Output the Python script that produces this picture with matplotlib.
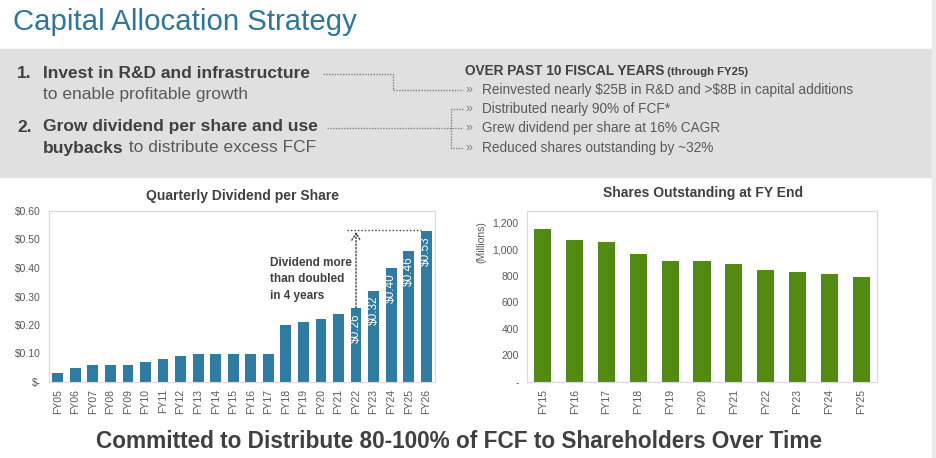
import numpy as np
import matplotlib
matplotlib.use("Agg")
from matplotlib import pyplot as plt
from matplotlib.ticker import FuncFormatter

plt.rcParams['font.family'] = ['Liberation Sans', 'DejaVu Sans']
plt.rcParams['text.parse_math'] = False

# data
div_years = ["FY05", "FY06", "FY07", "FY08", "FY09", "FY10", "FY11", "FY12", "FY13", "FY14", "FY15",
             "FY16", "FY17", "FY18", "FY19", "FY20", "FY21", "FY22", "FY23", "FY24", "FY25", "FY26"]
div_values = [0.03, 0.05, 0.06, 0.06, 0.06, 0.07, 0.08, 0.09, 0.10, 0.10, 0.10,
              0.10, 0.10, 0.20, 0.21, 0.22, 0.24, 0.26, 0.32, 0.40, 0.46, 0.53]
div_labeled = ["FY22", "FY23", "FY24", "FY25", "FY26"]

share_years = ["FY15", "FY16", "FY17", "FY18", "FY19", "FY20", "FY21", "FY22", "FY23", "FY24", "FY25"]
share_values = [1155, 1075, 1057, 965, 913, 912, 889, 844, 831, 816, 791]

bullets = ["Reinvested nearly $25B in R&D and >$8B in capital additions",
           "Distributed nearly 90% of FCF*",
           "Grew dividend per share at 16% CAGR",
           "Reduced shares outstanding by ~32%"]

W, H = 936, 458
TEAL = "#2E7799"
BLUE = "#2F7BA1"
GREEN = "#538A14"
DARK = "#404040"
GRAY = "#595959"
BORDER = "#D9D9D9"

fig = plt.figure(figsize=(W / 100, H / 100), dpi=100)
fig.patch.set_facecolor("white")

# background layer in pixel coords
bg = fig.add_axes([0, 0, 1, 1])
bg.set_xlim(0, W)
bg.set_ylim(H, 0)
bg.axis("off")
bg.add_patch(plt.Rectangle((0, 49), 932, 128, color="#E0E0E0", zorder=0))
bg.add_patch(plt.Rectangle((932, 0), 4, H, color="#EBEBEB", zorder=0))

bg.text(13, 22, "Capital Allocation Strategy", color=TEAL, fontsize=21.2, va="center", ha="left")

bg.text(17, 73, "1.", color=DARK, fontsize=12.5, fontweight="bold", va="center")
bg.text(43, 73, "Invest in R&D and infrastructure", color=DARK, fontsize=12.5,
        fontweight="bold", va="center")
bg.text(43, 94, "to enable profitable growth", color=GRAY, fontsize=12.5, va="center")
bg.text(17, 127, "2.", color=DARK, fontsize=12.5, fontweight="bold", va="center")
bg.text(43, 127, "Grow dividend per share and use", color=DARK, fontsize=12.5,
        fontweight="bold", va="center")
t = bg.text(43, 148, "buybacks", color=DARK, fontsize=12.5, fontweight="bold", va="center")
bg.annotate(" to distribute excess FCF", xy=(1, 0.5), xycoords=t, color=GRAY,
            fontsize=12.5, va="center", ha="left")

t = bg.text(465, 71, "OVER PAST 10 FISCAL YEARS", color=DARK, fontsize=9.8, fontweight="bold", va="center")
bg.annotate(" (through FY25)", xy=(1, 0.45), xycoords=t, color=DARK,
            fontsize=8.2, fontweight="bold", va="center", ha="left")

by = [90, 109, 128, 148]
for y, s in zip(by, bullets):
    bg.text(466, y, "»", color="#808080", fontsize=9, va="center")
    bg.text(482, y, s, color=GRAY, fontsize=9.85, va="center")

dot = dict(color="#808080", lw=1.0, ls=(0, (1, 1)))
bg.plot([323, 393, 393, 463], [74, 74, 90, 90], **dot)
bg.plot([327, 463], [128, 128], **dot)
bg.plot([463, 451, 451, 463], [109, 109, 148, 148], **dot)

bg.text(459, 441, "Committed to Distribute 80-100% of FCF to Shareholders Over Time",
        color=DARK, fontsize=16.3, fontweight="bold", ha="center", va="center")


def style(ax):
    for sp in ax.spines.values():
        sp.set_color(BORDER)
        sp.set_linewidth(0.8)
    ax.tick_params(length=0, colors=GRAY, labelsize=7.5)
    ax.tick_params(axis="x", rotation=90, pad=5)
    ax.tick_params(axis="y", pad=6)


# left chart: dividend per share
ax1 = fig.add_axes([49 / W, 1 - 382 / H, 386 / W, 171 / H])
x1 = np.arange(len(div_years))
ax1.bar(x1, div_values, width=0.62, color=BLUE)
ax1.set_xlim(-0.5, len(div_years) - 0.5)
ax1.set_ylim(0, 0.6)
ax1.set_yticks(np.arange(0, 0.61, 0.1))
ax1.yaxis.set_major_formatter(FuncFormatter(lambda v, p: "$-" if v == 0 else "$%.2f" % v))
ax1.set_xticks(x1)
ax1.set_xticklabels(div_years)
style(ax1)
for i, (yr, v) in enumerate(zip(div_years, div_values)):
    if yr in div_labeled:
        ax1.text(i, v - 0.018, "$%.2f" % v, rotation=90, color="white", fontsize=8.5,
                 ha="center", va="top")
i22 = div_years.index("FY22")
ax1.annotate("", xy=(i22, div_values[-1] - 0.003), xytext=(i22, div_values[i22]),
             arrowprops=dict(arrowstyle="->,head_length=0.5,head_width=0.3", color=DARK, lw=1,
                             ls=(0, (1, 1.5)), shrinkA=0, shrinkB=0))
ax1.plot([i22 - 0.5, len(div_years) - 1.31], [div_values[-1] + 0.003, div_values[-1] + 0.003],
         color=DARK, lw=1, ls=(0, (1, 1.5)))
ax1.text(12.1, 0.44, "Dividend more\nthan doubled\nin 4 years", color=DARK, fontsize=8.5,
         fontweight="bold", ha="left", va="top", linespacing=1.5)
bg.text(243, 196, "Quarterly Dividend per Share", color=DARK, fontsize=10,
        fontweight="bold", ha="center", va="center")

# right chart: shares outstanding
ax2 = fig.add_axes([527 / W, 1 - 382 / H, 350 / W, 171 / H])
x2 = np.arange(len(share_years))
ax2.bar(x2, share_values, width=0.54, color=GREEN)
ax2.set_xlim(-0.5, len(share_years) - 0.5)
ax2.set_ylim(0, 1290)
ax2.set_yticks(np.arange(0, 1201, 200))
ax2.yaxis.set_major_formatter(FuncFormatter(lambda v, p: "-" if v == 0 else "{:,.0f}".format(v)))
ax2.set_xticks(x2)
ax2.set_xticklabels(share_years)
style(ax2)
bg.text(481, 242, "(Millions)", color=GRAY, fontsize=7.5, rotation=90, ha="center", va="center")
bg.text(703, 193, "Shares Outstanding at FY End", color=DARK, fontsize=10,
        fontweight="bold", ha="center", va="center")

fig.savefig("out.png", dpi=100, facecolor="white")
